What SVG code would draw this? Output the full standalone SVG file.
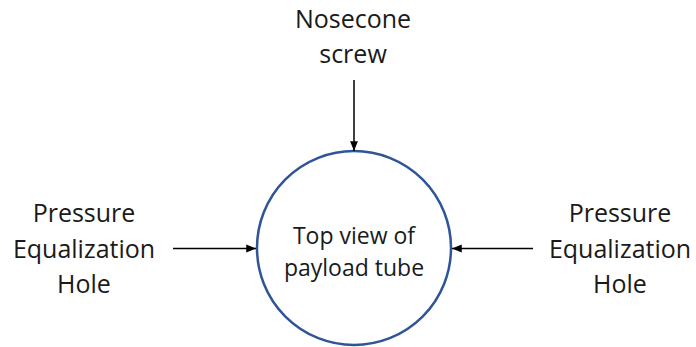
<svg xmlns="http://www.w3.org/2000/svg" width="696" height="347" viewBox="0 0 696 347">
<style>
text{font-family:"Open Sans","Noto Sans",sans-serif;font-size:25px;fill:#1a1a1a;text-anchor:middle}
.m{font-size:23px}
.c{fill:none;stroke:#2F5597;stroke-width:2.5}
.a{stroke:#000;stroke-width:1.5;fill:none;marker-end:url(#ah)}
</style>
<defs>
<marker id="ah" viewBox="0 0 10 10" refX="10" refY="5" markerWidth="6.5" markerHeight="6.5" orient="auto" markerUnits="strokeWidth"><path d="M0,1 L10,5 L0,9 z" fill="#000"/></marker>
</defs>
<rect width="696" height="347" fill="#fff"/>
<g id="tube"><circle class="c" cx="354" cy="248" r="97"/><text class="m" x="354" y="244">Top view of</text><text class="m" x="354" y="276">payload tube</text></g>
<g id="nosecone"><text x="353" y="28">Nosecone</text><text x="353" y="63">screw</text></g>
<g id="holeLeft"><text x="84" y="222">Pressure</text><text x="84" y="258">Equalization</text><text x="84" y="293">Hole</text></g>
<g id="holeRight"><text x="620" y="222">Pressure</text><text x="620" y="258">Equalization</text><text x="620" y="293">Hole</text></g>
<g id="connectors">
<line class="a" x1="354" y1="80" x2="354" y2="151"/>
<line class="a" x1="173" y1="248.5" x2="256" y2="248.5"/>
<line class="a" x1="533" y1="248.5" x2="452" y2="248.5"/>
</g>
</svg>
